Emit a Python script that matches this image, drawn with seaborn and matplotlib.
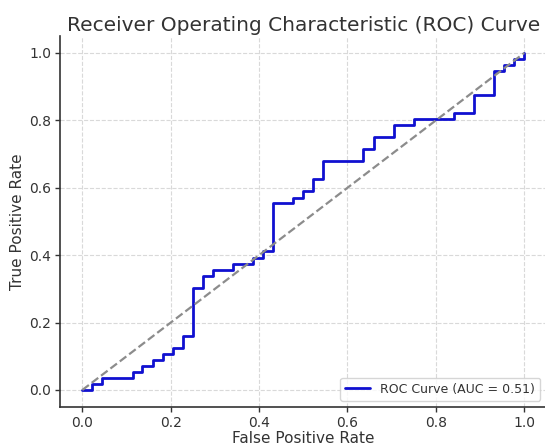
import seaborn as sns
import numpy as np
import pandas as pd
from matplotlib import pyplot as plt

# corner points of the ROC step curve
fpr = [0.0, 0.023, 0.023, 0.045, 0.045, 0.114, 0.114, 0.136, 0.136, 0.159, 0.159,
       0.182, 0.182, 0.205, 0.205, 0.227, 0.227, 0.25, 0.25, 0.273, 0.273, 0.295,
       0.295, 0.341, 0.341, 0.386, 0.386, 0.409, 0.409, 0.432, 0.432, 0.477, 0.477,
       0.5, 0.5, 0.523, 0.523, 0.545, 0.545, 0.636, 0.636, 0.659, 0.659, 0.705,
       0.705, 0.75, 0.75, 0.841, 0.841, 0.886, 0.886, 0.932, 0.932, 0.955, 0.955,
       0.977, 0.977, 1.0, 1.0]
tpr = [0.0, 0.0, 0.018, 0.018, 0.036, 0.036, 0.054, 0.054, 0.071, 0.071, 0.089,
       0.089, 0.107, 0.107, 0.125, 0.125, 0.161, 0.161, 0.304, 0.304, 0.339, 0.339,
       0.357, 0.357, 0.375, 0.375, 0.393, 0.393, 0.411, 0.411, 0.554, 0.554, 0.571,
       0.571, 0.589, 0.589, 0.625, 0.625, 0.679, 0.679, 0.714, 0.714, 0.75, 0.75,
       0.786, 0.786, 0.804, 0.804, 0.821, 0.821, 0.875, 0.875, 0.946, 0.946, 0.964,
       0.964, 0.982, 0.982, 1.0]
auc_label = 'ROC Curve (AUC = 0.51)'
chance = [0.0, 1.0]

sns.set_theme(style='whitegrid')
plt.rcParams['font.family'] = ['DejaVu Sans']
text_col = '#333333'

fig = plt.figure(figsize=(5.45, 4.46), dpi=100)
ax = fig.add_axes([0.1105, 0.0878, 0.892, 0.8312])

df = pd.DataFrame({'fpr': fpr, 'tpr': tpr})
sns.lineplot(data=df, x='fpr', y='tpr', sort=False, estimator=None,
             color='#1010d0', lw=2, label=auc_label, ax=ax)
sns.lineplot(x=chance, y=chance, color='#8c8c8c', lw=1.6, linestyle='--',
             legend=False, ax=ax)

ax.set_xlim(-0.05, 1.05)
ax.set_ylim(-0.05, 1.05)
ax.set_xticks(np.arange(0, 1.01, 0.2))
ax.set_yticks(np.arange(0, 1.01, 0.2))
ax.grid(True, linestyle='--', color='#d9d9d9', lw=0.8)
ax.set_facecolor('white')

sns.despine(ax=ax)
for s in ['left', 'bottom']:
    ax.spines[s].set_color(text_col)
    ax.spines[s].set_linewidth(1.2)
ax.tick_params(axis='both', which='major', direction='out', length=3.5, width=1,
               pad=3, color=text_col, labelcolor=text_col, labelsize=10,
               bottom=True, left=True)

ax.set_xlabel('False Positive Rate', fontsize=11, color=text_col, labelpad=1)
ax.set_ylabel('True Positive Rate', fontsize=11, color=text_col, labelpad=3)
ax.set_title('Receiver Operating Characteristic (ROC) Curve', fontsize=14.5,
             color=text_col, pad=4)

leg = ax.legend(loc='lower right', fontsize=9, frameon=True)
leg.get_frame().set_edgecolor('#cccccc')
for t in leg.get_texts():
    t.set_color(text_col)

fig.savefig('out.png', dpi=100)
